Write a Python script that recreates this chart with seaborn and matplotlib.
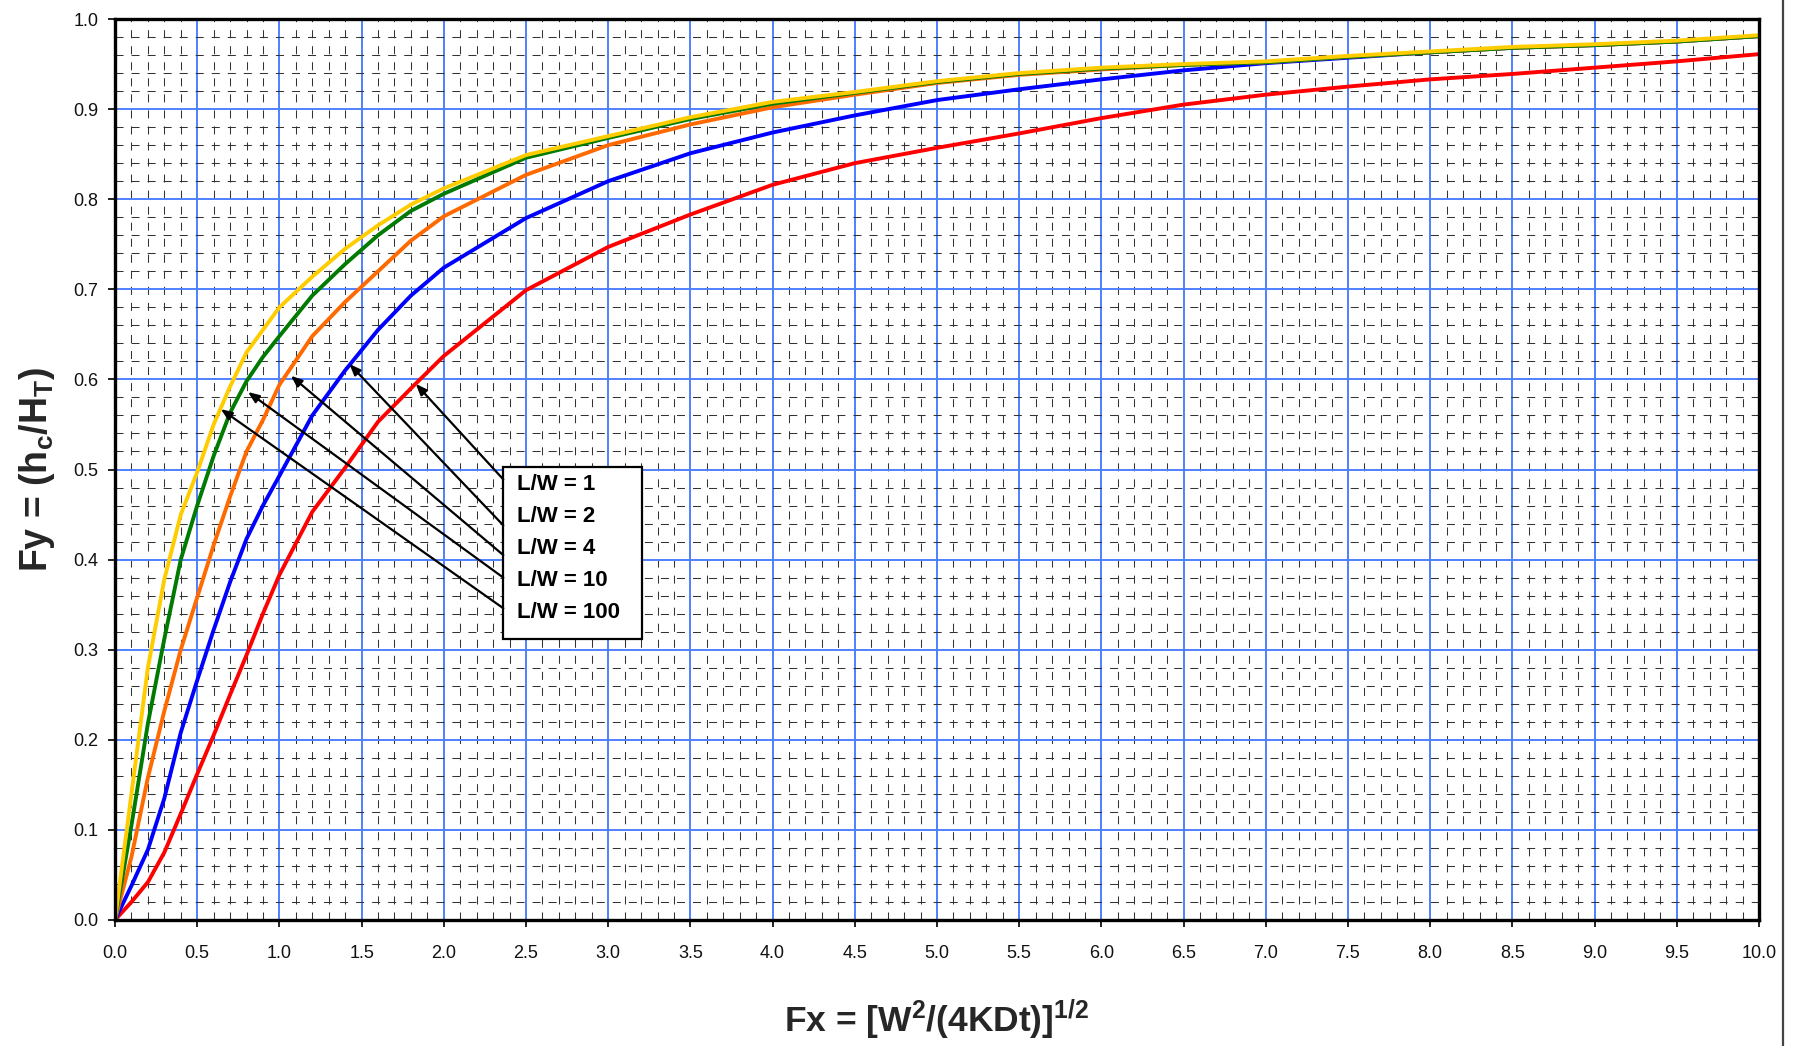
import numpy as np
import pandas as pd
import matplotlib
matplotlib.use("Agg")
import matplotlib.pyplot as plt
import seaborn as sns
from matplotlib.patches import Rectangle
from matplotlib.lines import Line2D

# ---------------- data ----------------
fx = [0.0, 0.1, 0.2, 0.3, 0.4, 0.5, 0.6, 0.7, 0.8, 0.9, 1.0, 1.2, 1.4, 1.6, 1.8, 2.0,
      2.5, 3.0, 3.5, 4.0, 4.5, 5.0, 5.5, 6.0, 6.5, 7.0, 7.5, 8.0, 8.5, 9.0, 9.5, 10.0]

fy_lw1 = [0.000, 0.020, 0.042, 0.075, 0.118, 0.162, 0.205, 0.250, 0.294, 0.340, 0.383, 0.453,
          0.502, 0.553, 0.590, 0.626, 0.699, 0.747, 0.783, 0.816, 0.840, 0.857, 0.873, 0.890,
          0.905, 0.916, 0.925, 0.933, 0.939, 0.946, 0.953, 0.961]
fy_lw2 = [0.000, 0.038, 0.078, 0.135, 0.208, 0.266, 0.322, 0.375, 0.423, 0.460, 0.493, 0.560,
          0.610, 0.655, 0.693, 0.724, 0.779, 0.820, 0.851, 0.874, 0.893, 0.910, 0.922, 0.933,
          0.943, 0.951, 0.957, 0.963, 0.968, 0.971, 0.975, 0.981]
fy_lw4 = [0.000, 0.070, 0.158, 0.232, 0.300, 0.358, 0.416, 0.470, 0.520, 0.555, 0.594, 0.648,
          0.686, 0.720, 0.754, 0.781, 0.827, 0.860, 0.883, 0.902, 0.916, 0.929, 0.938, 0.944,
          0.949, 0.952, 0.958, 0.963, 0.968, 0.971, 0.975, 0.981]
fy_lw10 = [0.000, 0.105, 0.218, 0.312, 0.400, 0.460, 0.515, 0.563, 0.598, 0.625, 0.648, 0.693,
           0.728, 0.760, 0.787, 0.806, 0.846, 0.868, 0.889, 0.906, 0.918, 0.930, 0.939, 0.945,
           0.949, 0.952, 0.958, 0.963, 0.968, 0.971, 0.975, 0.981]
fy_lw100 = [0.000, 0.140, 0.280, 0.378, 0.450, 0.497, 0.550, 0.592, 0.630, 0.655, 0.680, 0.714,
            0.745, 0.771, 0.794, 0.812, 0.849, 0.870, 0.891, 0.908, 0.919, 0.931, 0.940, 0.946,
            0.950, 0.953, 0.959, 0.964, 0.969, 0.972, 0.976, 0.982]

series_names = ["1", "2", "4", "10", "100"]
series_values = [fy_lw1, fy_lw2, fy_lw4, fy_lw10, fy_lw100]
series_colors = ["#FF0000", "#0000FF", "#FF6A00", "#007A00", "#FFCC00"]
box_labels = ["L/W = 1", "L/W = 2", "L/W = 4", "L/W = 10", "L/W = 100"]
# arrow tips (on the curves) for each label
arrow_tip_x = [1.83, 1.426, 1.07, 0.809, 0.644]
arrow_tip_y = [0.595, 0.617, 0.604, 0.586, 0.567]

x_ticks = np.round(np.arange(0, 10.01, 0.5), 1)
y_ticks = np.round(np.arange(0, 1.001, 0.1), 1)

df = pd.concat([pd.DataFrame({"Fx": fx, "Fy": v, "LW": n})
                for n, v in zip(series_names, series_values)], ignore_index=True)

# ---------------- style ----------------
sns.set_theme(style="ticks")
plt.rcParams["font.family"] = ["Liberation Sans", "DejaVu Sans"]
plt.rcParams["mathtext.fontset"] = "custom"
plt.rcParams["mathtext.rm"] = "Liberation Sans"
plt.rcParams["mathtext.bf"] = "Liberation Sans:bold"
plt.rcParams["mathtext.it"] = "Liberation Sans:italic"
plt.rcParams["mathtext.default"] = "bf"

fig = plt.figure(figsize=(18.03, 10.46), dpi=100)
ax = fig.add_axes([115 / 1803, 1 - 920 / 1046, (1759 - 115) / 1803, (920 - 19) / 1046])

sns.lineplot(data=df, x="Fx", y="Fy", hue="LW", hue_order=series_names,
             palette=dict(zip(series_names, series_colors)), linewidth=2.8,
             legend=False, ax=ax, sort=False, zorder=3)

ax.set_xlim(0, 10)
ax.set_ylim(0, 1.0)
ax.set_xticks(x_ticks)
ax.set_yticks(y_ticks)
ax.set_xticks(np.arange(0, 10.001, 0.1), minor=True)
ax.set_yticks(np.arange(0, 1.0001, 0.02), minor=True)
ax.set_xticklabels([f"{t:.1f}" for t in x_ticks])
ax.set_yticklabels([f"{t:.1f}" for t in y_ticks])

ax.grid(which="major", color="#5080FF", linewidth=1.4, zorder=1)
ax.grid(which="minor", color="#333333", linewidth=0.75, linestyle=(0, (7.7, 7.7)), zorder=1)
ax.set_axisbelow(True)

ax.tick_params(which="major", direction="out", length=5, width=1.4, color="#222222",
               labelsize=13, labelcolor="#111111")
ax.tick_params(axis="x", which="major", pad=13)
ax.tick_params(axis="y", which="major", pad=7)
ax.tick_params(which="minor", length=0)

for s in ax.spines.values():
    s.set_visible(True)
    s.set_color("black")
    s.set_linewidth(2.4)
    s.set_zorder(5)

ax.set_xlabel(r"Fx = [W$^{2}$/(4KDt)]$^{1/2}$", fontsize=25.5, fontweight="bold", labelpad=26)
ax.set_ylabel(r"Fy = (h$_{c}$/H$_{T}$)", fontsize=27, fontweight="bold", labelpad=12)

# label box
box_left, box_right, box_bottom, box_top = 2.362, 3.204, 0.312, 0.503
ax.add_patch(Rectangle((box_left, box_bottom), box_right - box_left, box_top - box_bottom,
                       facecolor="white", edgecolor="black", linewidth=1.6, zorder=6))
text_y = [0.483, 0.448, 0.4125, 0.377, 0.341]
tail_y = [0.489, 0.438, 0.405, 0.380, 0.346]
for lab, ty, tly, tx, tpy in zip(box_labels, text_y, tail_y, arrow_tip_x, arrow_tip_y):
    ax.text(2.443, ty, lab, fontsize=16, fontweight="bold", va="center", ha="left",
            color="black", zorder=7)
    ax.annotate("", xy=(tx, tpy), xytext=(box_left, tly),
                arrowprops=dict(arrowstyle="-|>,head_length=0.55,head_width=0.22",
                                color="black", lw=1.6, shrinkA=0, shrinkB=0,
                                mutation_scale=12),
                zorder=6)

# page border line on the right
fig.add_artist(Line2D([1783 / 1803, 1783 / 1803], [0, 1], transform=fig.transFigure,
                      color="#444444", linewidth=1.6))

fig.savefig("out.png", dpi=100, facecolor="white")
